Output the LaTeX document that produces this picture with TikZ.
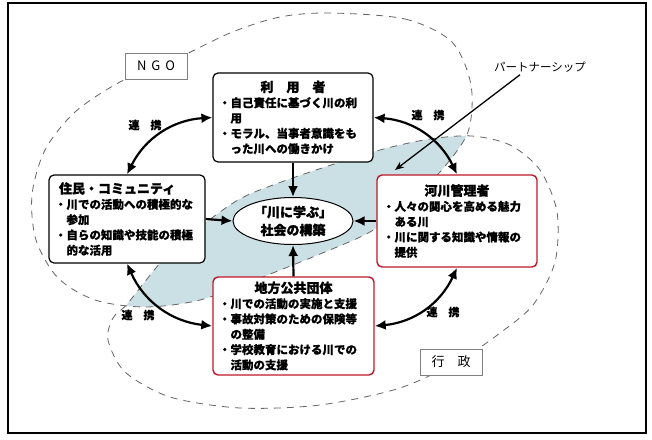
\documentclass[tikz,border=0pt]{standalone}
\usepackage{fontspec}
\newfontfamily\jp{Noto Sans CJK JP}
\newfontfamily\jpm[FakeBold=0.5]{Noto Sans CJK JP}
\newfontfamily\jpb[FakeBold=1.3]{Noto Sans CJK JP}
\usetikzlibrary{arrows.meta, shapes.geometric}

\definecolor{leafblue}{RGB}{203,224,228}
\definecolor{boxred}{RGB}{190,25,40}
\definecolor{dashgray}{RGB}{100,100,100}

\tikzset{
  kbox/.style={draw, rounded corners=5pt, line width=1.2pt, fill=white, align=left,
    inner xsep=6pt, inner ysep=4pt, font=\jpm\bfseries\fontsize{11.5}{15.3}\selectfont},
  redbox/.style={kbox, draw=boxred, line width=1.4pt},
  tagbox/.style={draw=gray, line width=0.8pt, fill=white, minimum width=62pt,
    minimum height=26pt, font=\jp\fontsize{13}{15}\selectfont},
  renkei/.style={font=\jpm\bfseries\fontsize{11}{13}\selectfont},
  grpline/.style={dashgray, line width=0.8pt, dash pattern=on 7pt off 6pt},
  dbl/.style={{Latex[length=11pt,width=10pt]}-{Latex[length=11pt,width=10pt]}, line width=2.2pt},
  sgl/.style={-{Latex[length=11pt,width=10pt]}, line width=2.2pt},
}
\newcommand\ttl[1]{\makebox[\hsize]{\jpb\bfseries\fontsize{13}{15}\selectfont #1}}

\begin{document}
\begin{tikzpicture}[x=1pt, y=-1pt]
\useasboundingbox (0,0) rectangle (652,439);
\draw[line width=1.3pt] (8,3) rectangle (646,433); % frame

% overlap of the two groups
\begin{scope}
\clip plot[smooth cycle] coordinates {(330,13) (405,19) (452,42) (471,85) (468,132) (440,172) (405,205) (370,232) (320,254) (260,278) (200,300) (145,307) (95,300) (58,278) (36,240) (32,195) (45,150) (75,112) (120,82) (170,62) (230,33) (280,17)};
\fill[leafblue] plot[smooth cycle] coordinates {(128,303) (170,252) (220,212) (250,194) (310,172) (380,150) (430,139) (472,136) (510,145) (540,170) (557,212) (555,262) (533,305) (500,333) (460,360) (400,388) (320,405) (240,408) (170,397) (125,372) (108,340) (113,318)};
\end{scope}

\draw[grpline] plot[smooth cycle] coordinates {(330,13) (405,19) (452,42) (471,85) (468,132) (440,172) (405,205) (370,232) (320,254) (260,278) (200,300) (145,307) (95,300) (58,278) (36,240) (32,195) (45,150) (75,112) (120,82) (170,62) (230,33) (280,17)}; % NGO
\draw[grpline] plot[smooth cycle] coordinates {(128,303) (170,252) (220,212) (250,194) (310,172) (380,150) (430,139) (472,136) (510,145) (540,170) (557,212) (555,262) (533,305) (500,333) (460,360) (400,388) (320,405) (240,408) (170,397) (125,372) (108,340) (113,318)}; % gyosei

\node[tagbox] (ngo) at (156,66) {N\hspace{5pt}G\hspace{5pt}O};
\node[tagbox] (gyosei) at (451,362) {行\hspace{1em}政};

\node[kbox, text width=148pt, minimum height=89pt] (riyo) at (293,117.5)
  {\ttl{利\quad 用\quad 者}\\・自己責任に基づく川の利\\\hspace*{1em}用\\・モラル、当事者意識をも\\\hspace*{1em}った川への働きかけ};
\node[kbox, text width=144pt, minimum height=88pt] (jumin) at (127,219)
  {\makebox[\hsize][l]{\hspace{4pt}\jpb\bfseries\fontsize{13}{15}\selectfont 住民・コミュニティ}\\・川での活動への積極的な\\\hspace*{1em}参加\\・自らの知識や技能の積極\\\hspace*{1em}的な活用};
\node[redbox, text width=148pt, minimum height=92pt] (kasen) at (457,221)
  {\ttl{河川管理者}\\・人々の関心を高める魅力\\\hspace*{1em}ある川\\・川に関する知識や情報の\\\hspace*{1em}提供};
\node[redbox, text width=149pt, minimum height=98pt] (chiho) at (293.5,326)
  {\ttl{地方公共団体}\\・川での活動の実施と支援\\・事故対策のための保険等\\\hspace*{1em}の整備\\・学校教育における川での\\\hspace*{1em}活動の支援};

\node[ellipse, draw, line width=1pt, fill=white, minimum width=120pt, minimum height=47pt,
  inner sep=0pt, align=center, font=\jpb\bfseries\fontsize{13}{18}\selectfont] (goal) at (293,221)
  {「川に学ぶ」\\社会の構築};

\node[renkei] (rk1) at (145,125) {連\hspace{1em}携};
\node[renkei] (rk2) at (428,115) {連\hspace{1em}携};
\node[renkei] (rk3) at (138,315) {連\hspace{1em}携};
\node[renkei] (rk4) at (443,312) {連\hspace{1em}携};

\node[font=\jp\fontsize{11.5}{13}\selectfont] (ptxt) at (540,67) {パートナーシップ};
\coordinate (ptip) at (395,170);

\draw[dbl] (jumin.north) to[bend left=30] (riyo.west);
\draw[dbl] (riyo.east) to[bend left=30] (kasen.north);
\draw[dbl] (jumin.south) to[bend right=30] (chiho.west);
\draw[dbl] (kasen.south) to[bend left=30] (chiho.east);

\draw[sgl] (riyo.south) -- (goal.north);
\draw[sgl] (chiho.north) -- (goal.south);
\draw[sgl] (jumin.east) -- (goal.west);
\draw[sgl] (kasen.west) -- (goal.east);

\draw[line width=1.3pt, -{Stealth[length=9pt,width=7pt]}] ([xshift=-20pt,yshift=1pt]ptxt.south) -- (ptip); % partnership
\end{tikzpicture}
\end{document}
